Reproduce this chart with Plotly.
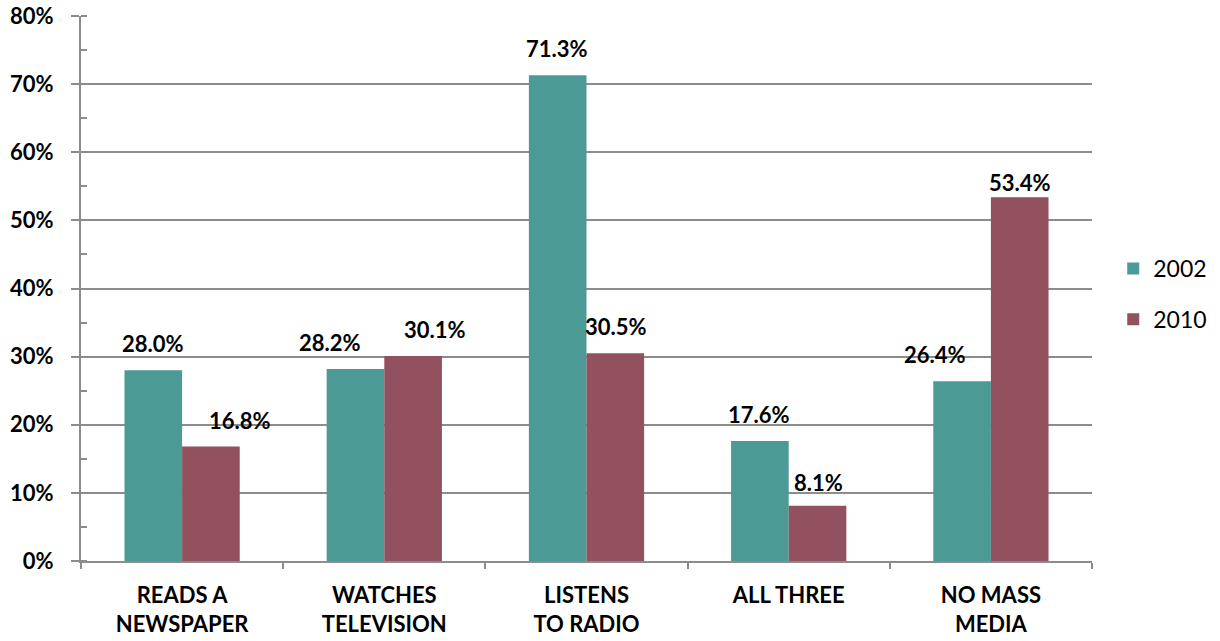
import plotly.graph_objects as go

categories = ["READS A<br>NEWSPAPER", "WATCHES<br>TELEVISION", "LISTENS<br>TO RADIO", "ALL THREE", "NO MASS<br>MEDIA"]
series_names = ["2002", "2010"]
values_2002 = [28.0, 28.2, 71.3, 17.6, 26.4]
values_2010 = [16.8, 30.1, 30.5, 8.1, 53.4]
# label nudges (px) as placed in the original
label_shift_2002 = [0, -25, 0, 0, -27]
label_shift_2010 = [29, 21, 0, 0, 0]
label_lift_2002 = [0, 0, 0, 0, 0]
label_lift_2010 = [0, 0, 0, -3, -12]

colors = ["rgb(75,154,149)", "rgb(146,81,94)"]
font = "Lato, 'Open Sans', sans-serif"

fig = go.Figure()
for name, vals, col in zip(series_names, [values_2002, values_2010], colors):
    fig.add_trace(go.Bar(
        x=categories, y=[v / 100 for v in vals], name=name,
        marker=dict(color=col, line=dict(width=0)),
        legendgroup=name,
    ))

annotations = []
for idx, (vals, shifts, lifts) in enumerate([(values_2002, label_shift_2002, label_lift_2002),
                                             (values_2010, label_shift_2010, label_lift_2010)]):
    offset = -0.145 if idx == 0 else 0.145
    for i, (v, s, l) in enumerate(zip(vals, shifts, lifts)):
        annotations.append(dict(
            x=i + offset, y=v / 100, xref="x", yref="y",
            text=f"<b>{v:.1f}%</b>", showarrow=False,
            yanchor="bottom", yshift=11 + l, xshift=s,
            font=dict(family=font, size=22, color="black"),
        ))

fig.update_layout(
    width=1220, height=641,
    margin=dict(l=81, r=128, t=16, b=80, autoexpand=False),
    plot_bgcolor="white", paper_bgcolor="white",
    barmode="group", bargap=0.43, bargroupgap=0,
    annotations=annotations,
    legend=dict(x=1.021, xanchor="left", y=0.49, yanchor="middle",
                font=dict(family=font, size=23, color="black"),
                tracegroupgap=18, itemwidth=30),
    showlegend=True,
)
fig.update_xaxes(
    type="category", tickson="boundaries", ticks="outside", ticklen=6,
    tickcolor="#8c8c8c", tickwidth=2,
    showline=True, linecolor="#8c8c8c", linewidth=2,
    showgrid=False, automargin=False, ticklabelstandoff=14,
    tickfont=dict(family=font, size=22, color="black"),
    tickprefix="<b>", ticksuffix="</b>",
)
fig.update_yaxes(
    range=[0, 0.8], dtick=0.1, tickformat=".0%",
    showgrid=True, gridcolor="#8c8c8c", gridwidth=1.5,
    showline=True, linecolor="#8c8c8c", linewidth=2,
    ticks="outside", ticklen=8, tickcolor="#8c8c8c", tickwidth=2,
    minor=dict(dtick=0.05, ticks="inside", ticklen=6, tickcolor="#8c8c8c", tickwidth=2, showgrid=False),
    tickfont=dict(family=font, size=22, color="black"),
    tickprefix="<b>", ticksuffix="</b>",
    zeroline=False, automargin=False, ticklabelstandoff=13,
)

fig.write_html("out.html", config={"responsive": False, "displayModeBar": False},
               post_script="document.body.style.margin='0';document.body.style.overflow='hidden';")
